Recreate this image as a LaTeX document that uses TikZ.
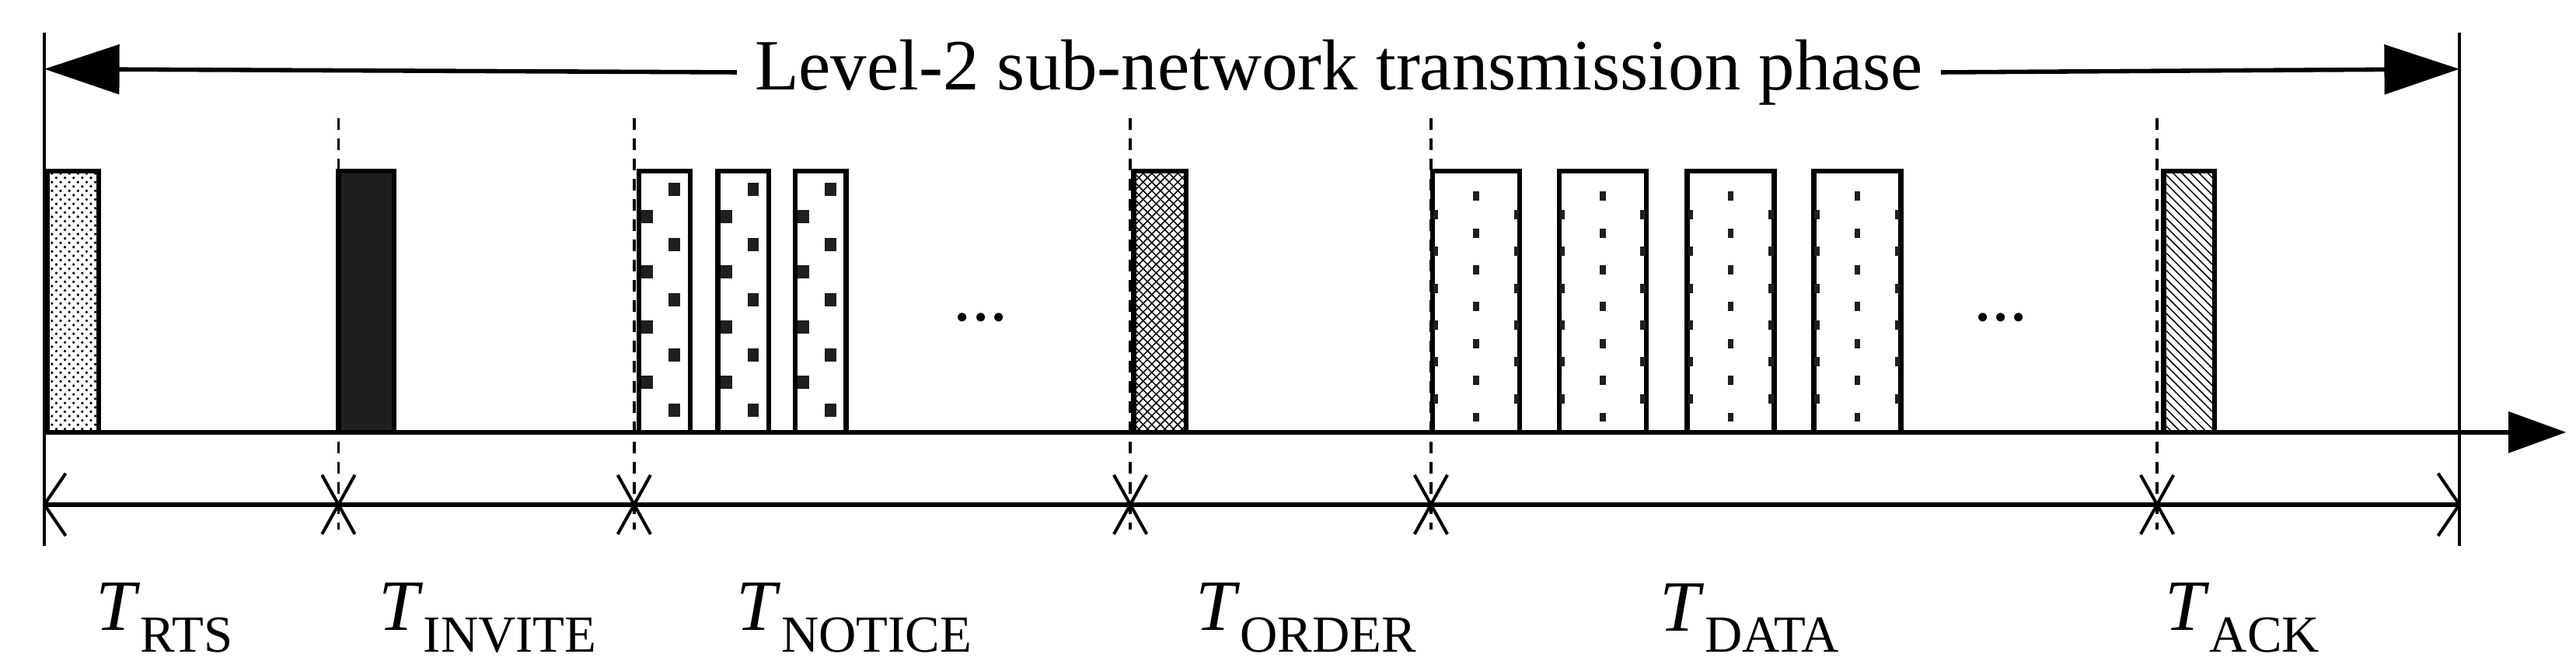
\documentclass[tikz,border=0pt]{standalone}
\usepackage{fontspec}
\setmainfont{Liberation Serif}
\usetikzlibrary{patterns,arrows.meta}
\newcommand{\tlab}[1]{\textit{T}\raisebox{-0.3em}{\fontsize{18}{20}\selectfont #1}}
\begin{document}
\begin{tikzpicture}[x=0.02cm,y=-0.02cm,
  box/.style={draw,line width=1.7pt},
  thinln/.style={line width=1.1pt},
  dashln/.style={line width=0.9pt,dash pattern=on 4pt off 3pt},
  lbl/.style={font=\fontsize{25}{29}\selectfont,inner sep=0pt},
  sq/.style={fill=black!88}]
\useasboundingbox (0,0) rectangle (1568,406);
% frame verticals
\coordinate (L1) at (27,20); \coordinate (L2) at (27,332);
\coordinate (R1) at (1497,20); \coordinate (R2) at (1497,332);
\draw[thinln] (L1) -- (L2);
\draw[thinln] (R1) -- (R2);
% top arrow
\coordinate (TA) at (27,42); \coordinate (TB) at (1497,42);
\node[lbl,fill=white,inner xsep=6pt] (title) at (815,44) {Level-2 sub-network transmission phase};
\draw[line width=1.5pt,-{Triangle[length=26pt,width=17pt]}] (title.west) -- (TA);
\draw[line width=1.5pt,-{Triangle[length=26pt,width=17pt]}] (title.east) -- (TB);
% dashed verticals
\foreach \x/\n in {206/a,386/b,688/c,871/d,1313/e}{
  \coordinate (d\n1) at (\x,72); \coordinate (d\n2) at (\x,322);
  \draw[dashln] (d\n1) -- (d\n2);
}
% boxes
\draw[box,pattern=crosshatch dots,pattern color=black] (29,104) rectangle (60,263);
\draw[box,fill=black!88] (206,104) rectangle (240,263);
\foreach \bx in {389,437,484}{
  \draw[box] (\bx,104) rectangle (\bx+31,263);
  \foreach \i in {0,...,8}{
    \pgfmathsetmacro{\yy}{115+16.8*\i}
    \pgfmathsetmacro{\xx}{\bx + (mod(\i,2)==0 ? 21.5 : 5)}
    \fill[sq] (\xx-3.5,\yy-4) rectangle (\xx+3.5,\yy+4);
  }
}
\draw[box,pattern=crosshatch,pattern color=black] (690,104) rectangle (722,263);
\foreach \bx in {872,949,1027,1104}{
  \draw[box] (\bx,104) rectangle (\bx+53,263);
  \foreach \i in {0,...,6}{
    \fill[sq] (\bx+26.5-1.8,119.4+22.4*\i-2.8) rectangle (\bx+26.5+1.8,119.4+22.4*\i+2.8);
  }
  \foreach \i in {0,...,5}{
    \fill[sq] (\bx+0.5,130.6+22.4*\i-2.8) rectangle (\bx+3.5,130.6+22.4*\i+2.8);
    \fill[sq] (\bx+49.5,130.6+22.4*\i-2.8) rectangle (\bx+52.5,130.6+22.4*\i+2.8);
  }
}
\draw[box,pattern=north west lines,pattern color=black] (1317,104) rectangle (1348,263);
\node[lbl] (dots1) at (597,193) {...};
\node[lbl] (dots2) at (1218,193) {...};
% time axis
\coordinate (A0) at (27,263); \coordinate (A1) at (1562,263);
\draw[line width=1.7pt,-{Triangle[length=20pt,width=14pt]}] (A0) -- (A1);
% interval line
\coordinate (B0) at (27,307); \coordinate (B1) at (1497,307);
\draw[line width=1.5pt] (B0) -- (B1);
\draw[thinln] (40,288) -- (B0) -- (40,326);
\draw[thinln] (1484,288) -- (B1) -- (1484,326);
\foreach \x in {206,386,688,871,1313}{
  \draw[thinln] (\x-10,289) -- (\x+10,325);
  \draw[thinln] (\x+10,289) -- (\x-10,325);
}
% labels
\node[lbl] (t1) at (100,376) {\tlab{RTS}};
\node[lbl] (t2) at (297,376) {\tlab{INVITE}};
\node[lbl] (t3) at (520,376) {\tlab{NOTICE}};
\node[lbl] (t4) at (795,376) {\tlab{ORDER}};
\node[lbl] (t5) at (1065,376) {\tlab{DATA}};
\node[lbl] (t6) at (1365,376) {\tlab{ACK}};
\end{tikzpicture}
\end{document}
